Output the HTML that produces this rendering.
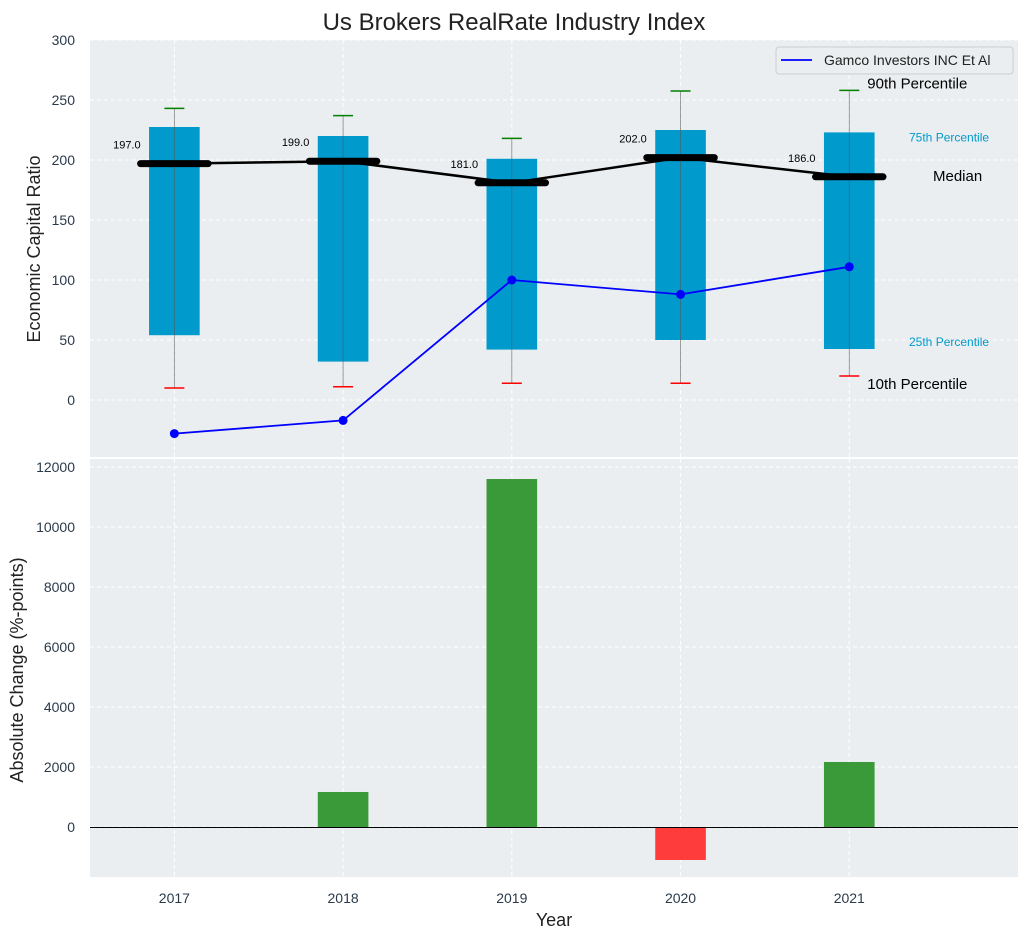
<!DOCTYPE html>
<html><head><meta charset="utf-8"><style>
body{margin:0;background:#fff;font-family:"Liberation Sans",sans-serif}
svg text{font-family:"Liberation Sans",sans-serif}
</style></head><body>
<svg id="c" width="1029" height="940" viewBox="0 0 1029 940"></svg>
<script>
const years=[2017,2018,2019,2020,2021];
const p10=[10,11,14,14,20];
const p25=[54,32,42,50,42.5];
const med=[197,199,181,202,186];
const p75=[227.5,220,201,225,223];
const p90=[243,237,218,257.5,258];
const company=[-28,-17,100,88,111];
const changes=[0,1167,11600,-1100,2167];
const topTicks=[0,50,100,150,200,250,300];
const botTicks=[0,2000,4000,6000,8000,10000,12000];

const svg=document.getElementById('c');
const NS='http://www.w3.org/2000/svg';
function el(t,a,p){const e=document.createElementNS(NS,t);for(const k in a)e.setAttribute(k,a[k]);(p||svg).appendChild(e);return e;}
function tx(x,y,s,a,p){const e=el('text',Object.assign({x:x,y:y},a),p);e.textContent=s;return e;}
const L=90,R=1018;
const xs=v=>L+(v-2016.5)/(2022-2016.5)*(R-L);
const T1=40,B1=457;const ys1=v=>T1+(300-v)/(300+47.5)*(B1-T1);
const T2=459,B2=877;const ys2=v=>T2+(12267-v)/(12267+1667)*(B2-T2);
const u=xs(1)-xs(0);

let g=el('g',{});
el('rect',{x:L,y:T1,width:R-L,height:B1-T1,fill:'#eaeef0'},g);
let g2=el('g',{});
el('rect',{x:L,y:T2,width:R-L,height:B2-T2,fill:'#eaeef0'},g2);
years.forEach(y=>{el('line',{x1:xs(y),x2:xs(y),y1:T1,y2:B1,stroke:'#fff','stroke-dasharray':'4,3'},g);el('line',{x1:xs(y),x2:xs(y),y1:T2,y2:B2,stroke:'#fff','stroke-dasharray':'4,3'},g2);});
topTicks.forEach(t=>{el('line',{x1:L,x2:R,y1:ys1(t),y2:ys1(t),stroke:'#fff','stroke-dasharray':'4,3'},g);
 const e=tx(75,ys1(t)+5,t,{'text-anchor':'end','font-size':14,fill:'#2a3a4a'});});
botTicks.forEach(t=>{el('line',{x1:L,x2:R,y1:ys2(t),y2:ys2(t),stroke:'#fff','stroke-dasharray':'4,3'},g2);
 const e=tx(75,ys2(t)+5,t,{'text-anchor':'end','font-size':14,fill:'#2a3a4a'});});
years.forEach(y=>{const e=tx(xs(y),903,y,{'text-anchor':'middle','font-size':14,fill:'#2a3a4a'});});

years.forEach((y,i)=>{const x=xs(y);const bw=0.3*u;
 const b=el('rect',{x:x-bw/2,y:ys1(p75[i]),width:bw,height:ys1(p25[i])-ys1(p75[i]),fill:'#009acd'},g);
 
 el('line',{x1:x,x2:x,y1:ys1(p90[i]),y2:ys1(p10[i]),stroke:'#555','stroke-width':0.8,'stroke-opacity':0.7},g);
 el('line',{x1:x-10,x2:x+10,y1:ys1(p90[i]),y2:ys1(p90[i]),stroke:'green','stroke-width':1.5},g);
 el('line',{x1:x-10,x2:x+10,y1:ys1(p10[i]),y2:ys1(p10[i]),stroke:'red','stroke-width':1.5},g);
});
let d='';years.forEach((y,i)=>d+=(i?'L':'M')+xs(y)+','+ys1(med[i]));
const ml=el('path',{d:d,stroke:'#000','stroke-width':2.5,fill:'none'},g);
years.forEach((y,i)=>{const x=xs(y);
 el('line',{x1:x-0.2*u,x2:x+0.2*u,y1:ys1(med[i]),y2:ys1(med[i]),stroke:'#000','stroke-width':7,'stroke-linecap':'round'},g);
 const e=tx(x-0.2*u,ys1(med[i])-15,med[i].toFixed(1),{'text-anchor':'end','font-size':11,fill:'#000'},g);});
d='';years.forEach((y,i)=>d+=(i?'L':'M')+xs(y)+','+ys1(company[i]));
const cl=el('path',{d:d,stroke:'blue','stroke-width':1.8,fill:'none'},g);
years.forEach((y,i)=>{const c=el('circle',{cx:xs(y),cy:ys1(company[i]),r:4.5,fill:'blue'},g);});
const lx=xs(2021)+18;
[['90th Percentile',ys1(p90[4])-7,15,'#000',lx],['10th Percentile',ys1(p10[4])+8,15,'#000',lx],['75th Percentile',ys1(p75[4])+4,12,'#009acd',909],['25th Percentile',ys1(p25[4])-8,12,'#009acd',909],['Median',ys1(med[4])-1,15,'#000',933]].forEach(a=>{
 const e=tx(a[4],a[1]+5,a[0],{'font-size':a[2],fill:a[3]},g);});
const lg=el('g',{},g);
el('rect',{x:776,y:47,width:237,height:27,rx:3,fill:'#eaeef0',stroke:'#ccc'},lg);
el('line',{x1:781,x2:812,y1:60,y2:60,stroke:'blue','stroke-width':1.8},lg);
tx(824,65,'Gamco Investors INC Et Al',{'font-size':14,fill:'#222'},lg);

years.forEach((y,i)=>{const v=changes[i];if(v===0)return;const bw=0.3*u;
 const b=el('rect',{x:xs(y)-bw/2,y:Math.min(ys2(v),ys2(0)),width:bw,height:Math.abs(ys2(v)-ys2(0)),fill:v>=0?'#3a9a3a':'#ff3c3c'},g2);
 });
el('line',{x1:L,x2:R,y1:Math.round(ys2(0))+0.5,y2:Math.round(ys2(0))+0.5,stroke:'#000','stroke-width':1},g2);

let e=tx(514,30,'Us Brokers RealRate Industry Index',{'text-anchor':'middle','font-size':24,fill:'#222'});
e=tx(554,926,'Year',{'text-anchor':'middle','font-size':18,fill:'#222'});
e=tx(0,0,'Economic Capital Ratio',{'text-anchor':'middle','font-size':18,fill:'#222',transform:'translate(40,249) rotate(-90)'});
e=tx(0,0,'Absolute Change (%-points)',{'text-anchor':'middle','font-size':18,fill:'#222',transform:'translate(23,670) rotate(-90)'});
</script>
</body></html>
